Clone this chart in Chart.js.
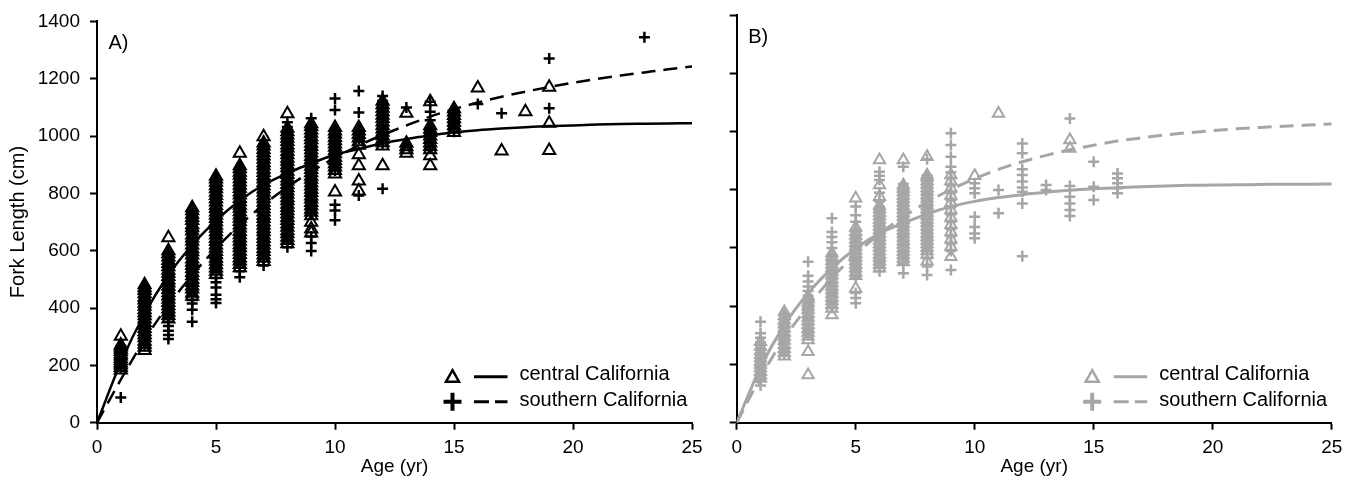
<!DOCTYPE html>
<html>
<head>
<meta charset="utf-8">
<script src="https://cdn.jsdelivr.net/npm/chart.js@4/dist/chart.umd.min.js"></script>
<style>
  body { margin: 0; background: #fff; }
  #wrap { position: relative; width: 1356px; height: 478px; }
  canvas { position: absolute; top: 0; }
</style>
</head>
<body>
<div id="wrap">
  <canvas id="panel-a" width="720" height="478" style="left:0px"></canvas>
  <canvas id="panel-b" width="656" height="478" style="left:700px"></canvas>
</div>
<script>
// ages for the fitted growth curves
const fitAges = [0, 1, 2, 3, 4, 5, 6, 7, 8, 9, 10, 11, 12, 13, 14, 15, 16, 17, 18, 19, 20, 21, 22, 23, 24, 25];

// A) fitted curves (read off the figure)
const fitCentralA  = [0, 210, 380, 515, 620, 705, 775, 830, 870, 905, 935, 955, 975, 990, 1002, 1012, 1020, 1026, 1031, 1035, 1037, 1040, 1042, 1043, 1044, 1045];
const fitSouthernA = [0, 150, 290, 410, 515, 608, 690, 760, 822, 876, 924, 967, 1004, 1037, 1068, 1094, 1117, 1137, 1155, 1171, 1186, 1199, 1211, 1222, 1233, 1243];

// B) fitted curves
const fitCentralB  = [0, 190, 335, 445, 530, 598, 650, 685, 717, 742, 760, 773, 783, 791, 798, 803, 807, 810, 813, 815, 816, 817, 818, 819, 819, 820];
const fitSouthernB = [0, 155, 290, 400, 497, 578, 648, 707, 758, 800, 838, 870, 896, 918, 937, 953, 967, 978, 988, 996, 1003, 1009, 1014, 1018, 1022, 1026];

// observed fork lengths, index = age (yr)
const obsCentralA = [
  [],
  [184, 193, 201, 208, 216, 224, 233, 240, 248, 256, 264, 271, 302],
  [252, 263, 274, 284, 296, 307, 317, 329, 340, 350, 362, 373, 384, 394, 406, 417, 428, 438, 450, 461, 471, 481],
  [362, 374, 385, 397, 408, 419, 431, 442, 453, 465, 476, 487, 498, 510, 521, 532, 544, 555, 566, 578, 589, 600, 645],
  [441, 452, 466, 477, 489, 500, 513, 524, 537, 548, 560, 571, 585, 596, 607, 620, 633, 644, 655, 669, 680, 691, 705, 716, 727, 739, 750],
  [517, 528, 540, 551, 563, 574, 586, 597, 609, 620, 632, 643, 655, 666, 678, 689, 701, 712, 724, 735, 747, 758, 770, 781, 793, 804, 816, 827, 839, 850, 860],
  [541, 552, 564, 575, 587, 598, 610, 621, 633, 644, 656, 667, 679, 690, 702, 713, 725, 736, 748, 759, 771, 782, 794, 805, 817, 828, 840, 851, 863, 874, 886, 896, 940],
  [562, 574, 585, 597, 608, 620, 631, 643, 654, 666, 677, 689, 700, 712, 723, 735, 746, 758, 769, 781, 792, 804, 815, 827, 838, 850, 861, 873, 884, 896, 907, 919, 930, 942, 953, 965, 976, 998],
  [624, 636, 647, 659, 670, 682, 693, 705, 716, 728, 739, 751, 762, 774, 785, 797, 808, 820, 831, 843, 854, 866, 877, 889, 900, 912, 923, 935, 946, 958, 969, 981, 992, 1004, 1015, 1027, 1078],
  [662, 676, 699, 722, 734, 745, 757, 768, 780, 791, 803, 814, 826, 837, 849, 860, 872, 883, 895, 906, 918, 929, 941, 952, 964, 975, 987, 998, 1010, 1021, 1033, 1043],
  [805, 868, 880, 892, 903, 915, 926, 938, 949, 961, 972, 984, 995, 1007, 1018, 1030],
  [808, 843, 896, 935, 968, 980, 993, 1005, 1018, 1030],
  [896, 965, 977, 989, 1001, 1013, 1025, 1037, 1049, 1061, 1073, 1085, 1097, 1109, 1121],
  [940, 952, 963, 975, 1080],
  [896, 931, 952, 964, 976, 988, 1000, 1012, 1024, 1036, 1120],
  [1012, 1024, 1036, 1048, 1060, 1072, 1084, 1095],
  [1168],
  [948],
  [1085],
  [950, 1045, 1170]
];

const obsSouthernA = [
  [],
  [88, 190, 210, 230, 250, 268],
  [268, 288, 308, 328, 348, 368, 388, 408, 428, 448, 466],
  [292, 306, 321, 337, 352, 366, 381, 400, 420, 440, 460, 480, 500, 520, 540, 560, 580],
  [352, 394, 416, 428, 446, 466, 486, 506, 526, 546, 566, 586, 606, 626, 646, 666, 686, 706, 726],
  [418, 431, 446, 472, 490, 505, 525, 545, 565, 585, 605, 625, 645, 665, 685, 705, 725, 745, 765, 785, 805, 825, 845],
  [507, 528, 548, 568, 588, 608, 628, 648, 668, 688, 708, 728, 748, 768, 788, 808, 828, 848, 868, 888],
  [548, 570, 590, 610, 630, 650, 670, 690, 710, 730, 750, 770, 790, 810, 830, 850, 870, 890, 910, 930, 950, 970],
  [612, 632, 652, 672, 692, 712, 732, 752, 772, 792, 812, 832, 852, 872, 892, 912, 932, 952, 972, 992, 1012, 1032, 1048],
  [599, 627, 650, 730, 755, 780, 805, 830, 855, 880, 905, 930, 955, 980, 1005, 1030, 1062],
  [706, 740, 760, 880, 910, 940, 970, 1000, 1020, 1091, 1131],
  [793, 990, 1010, 1082, 1157],
  [816, 975, 1005, 1035, 1065, 1095, 1108, 1122, 1140],
  [1100],
  [960, 990, 1020, 1055, 1085, 1120],
  [1015, 1045, 1070, 1090],
  [1112],
  [1080],
  [],
  [1097, 1271],
  [], [], [],
  [1345]
];

const obsCentralB = [
  [],
  [152, 163, 175, 188, 200, 209, 222, 233, 246, 262, 278],
  [228, 240, 254, 268, 282, 296, 310, 324, 338, 352, 366, 380],
  [164, 244, 284, 297, 310, 322, 336, 349, 361, 374, 388, 400, 413, 425, 434],
  [370, 392, 405, 418, 430, 443, 456, 468, 480, 493, 506, 518, 531, 543, 556, 570, 582],
  [461, 505, 517, 530, 542, 555, 567, 580, 592, 605, 617, 630, 643, 656, 670, 771],
  [530, 542, 554, 566, 578, 590, 602, 614, 626, 638, 650, 662, 674, 686, 698, 710, 722, 734, 745, 776, 816, 902],
  [552, 564, 576, 588, 600, 612, 624, 636, 648, 660, 672, 684, 696, 708, 720, 732, 744, 756, 768, 780, 792, 804, 815, 902],
  [554, 578, 590, 602, 614, 626, 638, 650, 662, 674, 686, 698, 710, 722, 734, 746, 758, 770, 782, 794, 806, 818, 830, 842, 850, 913],
  [570, 605, 630, 655, 680, 705, 730, 755, 780, 805, 830, 851],
  [848],
  [1062],
  [],
  [],
  [942, 971]
];

const obsSouthernB = [
  [],
  [128, 145, 165, 190, 215, 235, 255, 275, 292, 307, 347],
  [235, 255, 275, 295, 315, 335, 355, 372],
  [300, 318, 338, 358, 378, 398, 418, 436, 452, 468, 485, 505, 553],
  [395, 415, 435, 455, 475, 495, 515, 535, 555, 575, 600, 620, 638, 655, 702],
  [410, 428, 445, 500, 520, 540, 560, 580, 600, 620, 640, 660, 690, 712, 742],
  [520, 540, 560, 580, 600, 620, 640, 660, 680, 700, 720, 740, 760, 790, 833, 848, 862],
  [513, 545, 565, 585, 605, 625, 645, 665, 685, 705, 725, 745, 765, 785, 805, 820, 879],
  [507, 536, 565, 590, 612, 634, 656, 678, 700, 722, 744, 766, 788, 810, 832, 850, 905],
  [524, 590, 615, 640, 665, 690, 715, 740, 765, 790, 815, 840, 860, 879, 913, 954, 994],
  [633, 650, 672, 707, 788, 805, 822],
  [719, 799],
  [572, 753, 793, 808, 828, 851, 870, 925, 959],
  [799, 816],
  [710, 730, 753, 776, 813, 1045],
  [765, 810, 896],
  [788, 805, 822, 839, 856]
];

const xTicks = { min: 0, max: 25, step: 5 };
const yTicks = { min: 0, max: 1400, step: 200 };

const FONT = '"Liberation Sans", Arial, Helvetica, sans-serif';
Chart.defaults.font.family = FONT;

function toPoints(byAge) {
  const pts = [];
  byAge.forEach(function (vals, age) {
    vals.forEach(function (v) { pts.push({ x: age, y: v }); });
  });
  return pts;
}

function curve(vals) {
  return fitAges.map(function (a, i) { return { x: a, y: vals[i] }; });
}

// panel letter + legend drawn inside the plot area
function decor(label, color) {
  return {
    id: 'decor',
    afterDraw(chart) {
      const ctx = chart.ctx, a = chart.chartArea;
      ctx.save();
      ctx.fillStyle = '#000';
      ctx.font = '20px ' + FONT;
      ctx.textBaseline = 'alphabetic';
      ctx.textAlign = 'left';
      ctx.fillText(label, a.left + 11.5, a.top + 27.5);

      const mx = a.right - 239.5;
      const lx0 = a.right - 218, lx1 = a.right - 184.5;
      const tx = a.right - 172.5;
      const y1 = a.bottom - 46, y2 = a.bottom - 21;

      ctx.strokeStyle = color;
      ctx.lineWidth = 2.5;
      ctx.beginPath();
      ctx.moveTo(mx, y1 - 6.5);
      ctx.lineTo(mx + 6.5, y1 + 5);
      ctx.lineTo(mx - 6.5, y1 + 5);
      ctx.closePath();
      ctx.stroke();

      ctx.lineWidth = 4;
      ctx.beginPath();
      ctx.moveTo(mx - 9, y2); ctx.lineTo(mx + 9, y2);
      ctx.moveTo(mx, y2 - 9); ctx.lineTo(mx, y2 + 9);
      ctx.stroke();

      ctx.lineWidth = 3;
      ctx.beginPath();
      ctx.moveTo(lx0, y1); ctx.lineTo(lx1, y1);
      ctx.stroke();
      ctx.setLineDash([15, 6]);
      ctx.beginPath();
      ctx.moveTo(lx0, y2); ctx.lineTo(lx1, y2);
      ctx.stroke();
      ctx.setLineDash([]);

      ctx.font = '20px ' + FONT;
      ctx.fillStyle = '#000';
      ctx.fillText('central California', tx, a.bottom - 42.5);
      ctx.fillText('southern California', tx, a.bottom - 16.5);
      ctx.restore();
    }
  };
}

function plain(v) { return String(v); }

function makeScales(showY, yWidth) {
  return {
    x: {
      type: 'linear', min: xTicks.min, max: xTicks.max,
      ticks: { stepSize: xTicks.step, color: '#000', font: { size: 19 }, padding: 7, maxRotation: 0, callback: plain },
      grid: { drawOnChartArea: false, tickLength: 7, tickWidth: 2, tickColor: '#000' },
      border: { color: '#000', width: 2 },
      title: { display: true, text: 'Age (yr)', color: '#000', font: { size: 19 }, padding: { top: 0, bottom: 0 } },
      afterFit: function (s) { s.height = 55.3; }
    },
    y: {
      type: 'linear', min: yTicks.min, max: yTicks.max,
      ticks: { stepSize: yTicks.step, display: showY, color: '#000', font: { size: 19 }, padding: 10, callback: plain },
      grid: { drawOnChartArea: false, tickLength: 7, tickWidth: 2, tickColor: '#000' },
      border: { color: '#000', width: 2 },
      title: { display: showY, text: 'Fork Length (cm)', color: '#000', font: { size: 20 }, padding: { top: 6, bottom: 0 } },
      afterFit: function (s) { s.width = yWidth; }
    }
  };
}

function makePanel(id, label, color, fitC, fitS, obsC, obsS, showY, yWidth, padRight, lw, triR) {
  new Chart(document.getElementById(id), {
    type: 'scatter',
    data: {
      datasets: [
        { label: 'central fit', data: curve(fitC), showLine: true, borderColor: color, borderWidth: lw,
          pointRadius: 0, fill: false, cubicInterpolationMode: 'monotone' },
        { label: 'southern fit', data: curve(fitS), showLine: true, borderColor: color, borderWidth: lw,
          borderDash: [14, 8], pointRadius: 0, fill: false, cubicInterpolationMode: 'monotone' },
        { label: 'central California', data: toPoints(obsC), pointStyle: 'triangle', pointRadius: triR,
          borderColor: color, backgroundColor: 'rgba(0,0,0,0)', pointBorderWidth: 2 },
        { label: 'southern California', data: toPoints(obsS), pointStyle: 'cross', pointRadius: 5.5,
          borderColor: color, backgroundColor: color, pointBorderWidth: 2.5 }
      ]
    },
    options: {
      responsive: false,
      animation: false,
      devicePixelRatio: 1,
      layout: { padding: { top: 15, right: padRight, bottom: 0, left: 0 } },
      plugins: { legend: { display: false }, tooltip: { enabled: false } },
      scales: makeScales(showY, yWidth)
    },
    plugins: [decor(label, color)]
  });
}

makePanel('panel-a', 'A)', '#000000', fitCentralA, fitSouthernA, obsCentralA, obsSouthernA, true, 97, 28, 2.5, 7);
makePanel('panel-b', 'B)', '#a6a6a6', fitCentralB, fitSouthernB, obsCentralB, obsSouthernB, false, 36.7, 24.3, 3, 6.5);
</script>
</body>
</html>
